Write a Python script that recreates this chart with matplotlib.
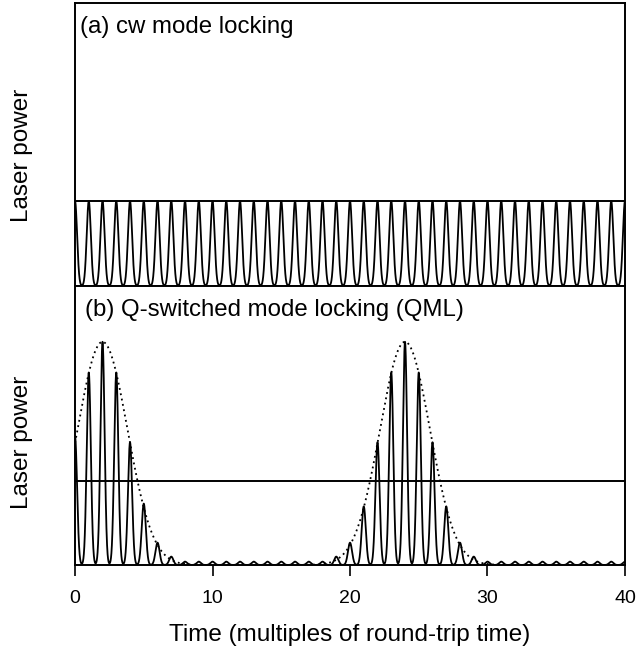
import numpy as np
import matplotlib.pyplot as plt

plt.rcParams['font.family'] = ['Liberation Sans', 'DejaVu Sans']

# round-trip index (pulse positions) 0..40
trips = np.arange(0, 41)

# (a) cw mode locking: constant pulse peaks, average line
cw_peaks = [0.30] * 41
cw_line = 0.30

# (b) QML: pulse peak heights read per round trip
qml_peaks = [0.46, 0.69, 0.80, 0.69, 0.44, 0.22, 0.08, 0.03, 0.012, 0.012,
             0.012, 0.012, 0.012, 0.012, 0.012, 0.012, 0.012, 0.012, 0.012, 0.03,
             0.08, 0.21, 0.44, 0.69, 0.80, 0.69, 0.44, 0.21, 0.08, 0.03,
             0.012, 0.012, 0.012, 0.012, 0.012, 0.012, 0.012, 0.012, 0.012, 0.012,
             0.012]
qml_line = 0.30
# Q-switch envelope (dotted): burst centres, peak and width
env_centres = [2, 24]
env_peak = 0.80
env_width = 1.82

pulse_sigma = 0.15

t = np.linspace(0, 40, 8001)


def train(peaks):
    y = np.zeros_like(t)
    for k, p in zip(trips, peaks):
        y += p * np.exp(-0.5 * ((t - k) / pulse_sigma) ** 2)
    return y


env = np.zeros_like(t)
for c in env_centres:
    env += env_peak * np.exp(-0.5 * ((t - c) / env_width) ** 2)

fig = plt.figure(figsize=(6.38, 6.53), dpi=100)
ax1 = fig.add_axes([0.1176, 0.562, 0.862, 0.4335])
ax2 = fig.add_axes([0.1176, 0.1348, 0.862, 0.4272])

for ax, ly in ((ax1, 0.46), (ax2, 0.44)):
    ax.set_xlim(0, 40)
    ax.set_ylim(0, 1)
    ax.set_yticks([])
    for s in ax.spines.values():
        s.set_linewidth(1.4)
    ax.set_ylabel('Laser power', fontsize=17.5, va='center')
    ax.yaxis.set_label_coords(-0.096, ly)

ax1.plot(t, train(cw_peaks), color='black', lw=1.3)
ax1.axhline(cw_line, color='black', lw=1.4)
ax1.set_xticks([])
ax1.text(0.009, 0.955, '(a) cw mode locking', transform=ax1.transAxes,
         fontsize=17.3, va='top', ha='left')

ax2.plot(t, train(qml_peaks), color='black', lw=1.3)
ax2.plot(t, env, color='black', lw=1.3, linestyle=(0, (1, 2)))
ax2.axhline(qml_line, color='black', lw=1.4)
ax2.set_xticks([0, 10, 20, 30, 40])
ax2.tick_params(axis='x', direction='out', length=8, width=1.2,
                labelsize=14, pad=10)
ax2.set_xlabel('Time (multiples of round-trip time)', fontsize=17.5, labelpad=12)
ax2.text(0.018, 0.952, '(b) Q-switched mode locking (QML)',
         transform=ax2.transAxes, fontsize=17.3, va='top', ha='left')

fig.savefig('out.png', dpi=100)
